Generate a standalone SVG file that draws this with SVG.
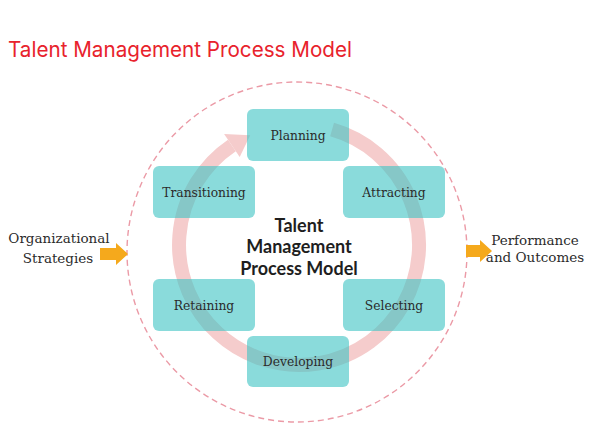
<svg xmlns="http://www.w3.org/2000/svg" width="596" height="423" viewBox="0 0 596 423">
<style>
.box{fill:#3cc3c3;fill-opacity:0.6}
.lbl{font-family:"DejaVu Serif","Liberation Serif",serif;font-size:12.3px;fill:#2b2b2b;text-anchor:middle}
.side{font-family:"DejaVu Serif","Liberation Serif",serif;font-size:13.5px;fill:#2b2b2b;text-anchor:middle}
.center{font-family:Lato,"Liberation Sans",sans-serif;font-weight:bold;font-size:18px;fill:#1e1e1e;text-anchor:middle}
.title{font-family:Inter,"Liberation Sans",sans-serif;font-size:21px;fill:#e8222c}
.arrow{fill:#f5a91c}
</style>
<rect width="596" height="423" fill="#ffffff"/>
<text class="title" x="8" y="57" textLength="344" lengthAdjust="spacingAndGlyphs">Talent Management Process Model</text>
<circle cx="297" cy="252" r="170" fill="none" stroke="#eb9aa6" stroke-width="1.4" stroke-dasharray="6 4"/>
<g id="connectors">
<path d="M 332.1 129.6 A 120 120 0 1 1 231.9 145.5" fill="none" stroke="#f5cccc" stroke-width="14"/>
<polygon points="224.1,133.9 239.7,157.1 250.2,135.3" fill="#f5cccc"/>
<polygon class="arrow" points="100,248 116,248 116,243 128,254 116,265 116,260 100,260"/>
<polygon class="arrow" points="466,245 480,245 480,240 492,251 480,262 480,257 466,257"/>
</g>
<g id="planning"><rect class="box" x="247" y="109" width="102" height="52" rx="6"/><text class="lbl" x="298" y="139.5">Planning</text></g>
<g id="attracting"><rect class="box" x="343" y="166" width="102" height="52" rx="6"/><text class="lbl" x="394" y="196.5">Attracting</text></g>
<g id="selecting"><rect class="box" x="343" y="279" width="102" height="52" rx="6"/><text class="lbl" x="394" y="309.5">Selecting</text></g>
<g id="developing"><rect class="box" x="247" y="336" width="102" height="51" rx="6"/><text class="lbl" x="298" y="366">Developing</text></g>
<g id="retaining"><rect class="box" x="153" y="279" width="102" height="52" rx="6"/><text class="lbl" x="204" y="309.5">Retaining</text></g>
<g id="transitioning"><rect class="box" x="153" y="166" width="102" height="52" rx="6"/><text class="lbl" x="204" y="196.5">Transitioning</text></g>
<g id="center"><text class="center" x="299" y="232">Talent</text><text class="center" x="299" y="253">Management</text><text class="center" x="299" y="275">Process Model</text></g>
<g id="org"><text class="side" x="59" y="243">Organizational</text><text class="side" x="58" y="263">Strategies</text></g>
<g id="perf"><text class="side" x="535" y="245">Performance</text><text class="side" x="535" y="262">and Outcomes</text></g>
</svg>
